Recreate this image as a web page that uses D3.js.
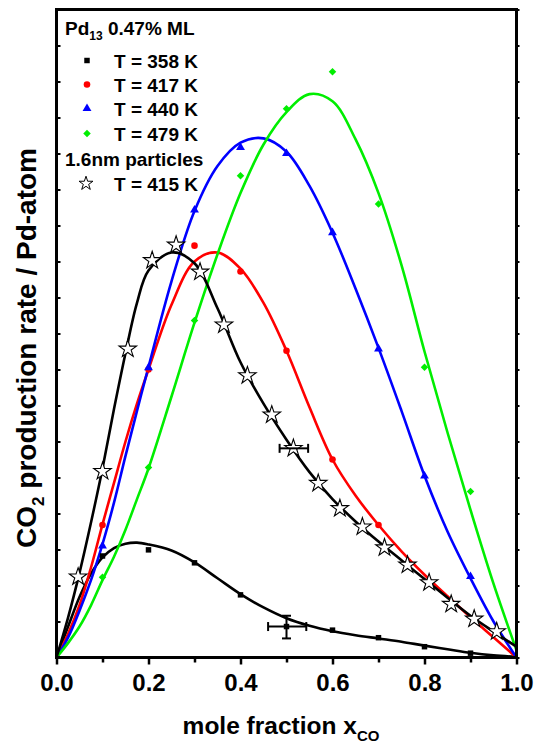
<!DOCTYPE html>
<html>
<head>
<meta charset="utf-8">
<script src="https://cdn.jsdelivr.net/npm/d3@7"></script>
<style>
  html, body { margin: 0; padding: 0; background: #fff; }
  svg { display: block; font-family: "Liberation Sans", Arial, sans-serif; font-weight: bold; }
</style>
</head>
<body>
<svg id="chart" width="537" height="747"></svg>
<script>
// ---- measured rates (CO2 per Pd atom, arbitrary units) ----
const xPts = [0.1, 0.2, 0.3, 0.4, 0.5, 0.6, 0.7, 0.8, 0.9];
const rate358 = [2.82, 2.99, 2.63, 1.74, 0.86, 0.76, 0.55, 0.30, 0.12];
const xPts417 = [0.1, 0.2, 0.3, 0.4, 0.5, 0.6, 0.7];
const rate417 = [3.68, 8.0, 11.44, 10.72, 8.52, 5.5, 3.68];
const rate440 = [3.1, 8.05, 12.43, 14.17, 14.0, 11.8, 8.57, 5.04, 2.25];
const rate479 = [2.23, 5.28, 9.36, 13.38, 15.24, 16.27, 12.6, 8.06, 4.61];
const xStar = [0.047, 0.1, 0.155, 0.208, 0.26, 0.312, 0.364, 0.415, 0.468, 0.515,
               0.569, 0.616, 0.665, 0.713, 0.763, 0.81, 0.858, 0.908, 0.957];
const rateStar = [2.24, 5.17, 8.57, 11.03, 11.46, 10.71, 9.24, 7.83, 6.74, 5.81,
                  4.84, 4.14, 3.63, 3.05, 2.57, 2.08, 1.48, 1.07, 0.72];

// ---- kinetic fit curves, sampled ----
const fitX = [0, 0.025, 0.05, 0.075, 0.1, 0.125, 0.15, 0.175, 0.2, 0.25, 0.3, 0.35, 0.4,
              0.45, 0.5, 0.55, 0.6, 0.65, 0.7, 0.75, 0.8, 0.85, 0.9, 0.95, 1.0];
const fit358 = [0, 0.85, 1.68, 2.33, 2.78, 3.04, 3.16, 3.19, 3.14, 2.97, 2.64, 2.2, 1.76,
                1.39, 1.09, 0.88, 0.73, 0.62, 0.53, 0.44, 0.33, 0.23, 0.13, 0.06, 0.02];
const fit417 = [0, 0.65, 1.45, 2.5, 3.7, 4.85, 6.0, 7.05, 8.0, 9.8, 11.0, 11.25, 10.8,
                9.85, 8.52, 6.95, 5.5, 4.5, 3.68, 2.95, 2.3, 1.7, 1.12, 0.56, 0];
const fit440 = [0, 0.55, 1.3, 2.15, 3.15, 4.3, 5.6, 6.85, 8.07, 10.45, 12.4, 13.65, 14.3,
                14.42, 14.05, 13.1, 11.8, 10.25, 8.6, 6.85, 5.05, 3.5, 2.2, 1.0, 0];
const fit479 = [0, 0.4, 0.86, 1.45, 2.15, 2.8, 3.55, 4.4, 5.25, 7.25, 9.3, 11.2, 12.9,
                14.25, 15.15, 15.65, 15.45, 14.4, 12.9, 10.9, 8.5, 6.25, 4.1, 2.05, 0.2];
const fitStar = [0, 1.1, 2.35, 3.75, 5.25, 6.9, 8.45, 9.85, 10.75, 11.25, 10.95, 9.7, 8.2,
                 7.05, 6.05, 5.15, 4.4, 3.78, 3.22, 2.7, 2.18, 1.66, 1.16, 0.72, 0.3];

// ---- error bars: [x, y, xLow, xHigh, yLow, yHigh] ----
const err358 = [0.5, 0.86, 0.46, 0.543, 0.53, 1.16];
const errStar = [0.515, 5.81, 0.485, 0.547, 5.81, 5.81];

// ---- axis ticks ----
const xMajorTicks = [0, 0.2, 0.4, 0.6, 0.8, 1.0];
const xMinorTicks = [0.1, 0.3, 0.5, 0.7, 0.9];
const yTicks = d3.range(0, 19);

// ---- legend ----
const legendTitle = ["Pd", "13", " 0.47% ML"];
const legendLabels = ["T = 358 K", "T = 417 K", "T = 440 K", "T = 479 K"];
const legendSub = "1.6nm particles";
const legendStar = "T = 415 K";

const svg = d3.select("#chart");
const x = d3.scaleLinear().domain([0, 1]).range([56.5, 516.5]);
const y = d3.scaleLinear().domain([0, 18]).range([657.5, 9.5]);

const colors = { k358: "#000000", k417: "#ff0000", k440: "#0000ff", k479: "#00ee00" };

// fits
const line = d3.line().x(d => x(d[0])).y(d => y(d[1])).curve(d3.curveCatmullRom.alpha(0.5));
const fits = [
  [fit358, colors.k358], [fit417, colors.k417], [fit440, colors.k440],
  [fit479, colors.k479], [fitStar, "#000"]
];
fits.forEach(([vals, c]) => {
  svg.append("path")
    .datum(fitX.map((v, i) => [v, vals[i]]))
    .attr("d", line)
    .attr("fill", "none")
    .attr("stroke", c)
    .attr("stroke-width", 2.6);
});

// markers
const sym = {
  square: d3.symbol().type(d3.symbolSquare).size(30),
  circle: d3.symbol().type(d3.symbolCircle).size(34),
  tri: d3.symbol().type(d3.symbolTriangle).size(34),
  diamond: d3.symbol().type(d3.symbolSquare).size(28),
  star: d3.symbol().type(d3.symbolStar).size(95)
};

function points(xs, ys, shape, color, rot) {
  svg.append("g").selectAll("path")
    .data(xs.map((v, i) => [v, ys[i]]))
    .join("path")
    .attr("d", shape)
    .attr("transform", d => `translate(${x(d[0])},${y(d[1])})` + (rot ? ` rotate(${rot})` : ""))
    .attr("fill", color);
}
points(xPts, rate358, sym.square, colors.k358);
points(xPts417, rate417, sym.circle, colors.k417);
points(xPts, rate440, sym.tri, colors.k440);
points(xPts, rate479, sym.diamond, colors.k479, 45);

// error bars
function errorBar(e, cap) {
  const g = svg.append("g").attr("stroke", "#000").attr("stroke-width", 2);
  const [ex, ey, x0, x1, y0, y1] = e;
  g.append("line").attr("x1", x(x0)).attr("x2", x(x1)).attr("y1", y(ey)).attr("y2", y(ey));
  g.append("line").attr("x1", x(x0)).attr("x2", x(x0)).attr("y1", y(ey) - cap).attr("y2", y(ey) + cap);
  g.append("line").attr("x1", x(x1)).attr("x2", x(x1)).attr("y1", y(ey) - cap).attr("y2", y(ey) + cap);
  if (y1 > y0) {
    g.append("line").attr("x1", x(ex)).attr("x2", x(ex)).attr("y1", y(y0)).attr("y2", y(y1));
    g.append("line").attr("x1", x(ex) - cap).attr("x2", x(ex) + cap).attr("y1", y(y0)).attr("y2", y(y0));
    g.append("line").attr("x1", x(ex) - cap).attr("x2", x(ex) + cap).attr("y1", y(y1)).attr("y2", y(y1));
  }
}
errorBar(err358, 4.5);

// stars (hollow)
svg.append("g").selectAll("path")
  .data(xStar.map((v, i) => [v, rateStar[i]]))
  .join("path")
  .attr("d", sym.star)
  .attr("transform", d => `translate(${x(d[0])},${y(d[1])})`)
  .attr("fill", "#fff")
  .attr("stroke", "#000")
  .attr("stroke-width", 1.1);
errorBar(errStar, 4.5);

// axes frame
const frame = svg.append("g");
frame.append("rect")
  .attr("x", x(0)).attr("y", y(18))
  .attr("width", x(1) - x(0)).attr("height", y(0) - y(18))
  .attr("fill", "none").attr("stroke", "#000").attr("stroke-width", 3);

const xAxis = svg.append("g")
  .attr("transform", `translate(0,${y(0)})`)
  .call(d3.axisBottom(x).tickValues(xMajorTicks).tickFormat(d3.format(".1f")).tickSize(7).tickPadding(9));
xAxis.select(".domain").remove();
xAxis.selectAll(".tick line").attr("stroke-width", 2.5);
xAxis.selectAll(".tick text")
  .attr("font-size", 24).attr("font-weight", "bold")
  .attr("font-family", "Liberation Sans, Arial, sans-serif").attr("fill", "#000");

const xMinor = svg.append("g")
  .attr("transform", `translate(0,${y(0)})`)
  .call(d3.axisBottom(x).tickValues(xMinorTicks).tickFormat("").tickSize(5));
xMinor.select(".domain").remove();
xMinor.selectAll(".tick line").attr("stroke-width", 2.5);

const yLeft = svg.append("g")
  .attr("transform", `translate(${x(0)},0)`)
  .call(d3.axisRight(y).tickValues(yTicks).tickFormat("").tickSize(4));
yLeft.select(".domain").remove();
yLeft.selectAll(".tick line").attr("stroke-width", 2);

const yRight = svg.append("g")
  .attr("transform", `translate(${x(1)},0)`)
  .call(d3.axisRight(y).tickValues(yTicks).tickFormat("").tickSize(3));
yRight.select(".domain").remove();
yRight.selectAll(".tick line").attr("stroke-width", 2);

// axis titles
const xt = svg.append("text")
  .attr("x", 281).attr("y", 734)
  .attr("text-anchor", "middle")
  .attr("font-size", 24.5);
xt.append("tspan").text("mole fraction x");
xt.append("tspan").attr("font-size", 15).attr("dy", 7).text("CO");

const yt = svg.append("text")
  .attr("transform", "translate(36,348) rotate(-90)")
  .attr("text-anchor", "middle")
  .attr("font-size", 28);
yt.append("tspan").text("CO");
yt.append("tspan").attr("font-size", 17).attr("dy", 8).text("2");
yt.append("tspan").attr("dy", -8).text(" production rate / Pd-atom");

// legend
const lg = svg.append("g").attr("font-size", 19);
const title = lg.append("text").attr("x", 65).attr("y", 35);
title.append("tspan").text(legendTitle[0]);
title.append("tspan").attr("font-size", 12).attr("dy", 5).text(legendTitle[1]);
title.append("tspan").attr("dy", -5).text(legendTitle[2]);

const legendSyms = [
  [sym.square, colors.k358, 0], [sym.circle, colors.k417, 0],
  [sym.tri, colors.k440, 0], [sym.diamond, colors.k479, 45]
];
const rowY = [60.5, 84.5, 108.5, 133.5];
legendLabels.forEach((t, i) => {
  const [s, c, r] = legendSyms[i];
  lg.append("path").attr("d", s)
    .attr("transform", `translate(87,${rowY[i]})` + (r ? ` rotate(${r})` : ""))
    .attr("fill", c);
  lg.append("text").attr("x", 114).attr("y", rowY[i] + 7).text(t);
});
lg.append("text").attr("x", 65).attr("y", 166).text(legendSub);
lg.append("path").attr("d", d3.symbol().type(d3.symbolStar).size(60))
  .attr("transform", "translate(86,183.5)")
  .attr("fill", "#fff").attr("stroke", "#000").attr("stroke-width", 1);
lg.append("text").attr("x", 114).attr("y", 190.5).text(legendStar);
</script>
</body>
</html>
